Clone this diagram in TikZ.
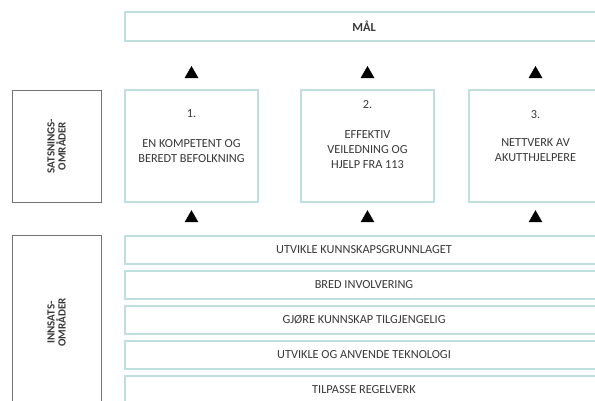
\documentclass[tikz,border=0pt]{standalone}
\usepackage{fontspec}
\setmainfont{Carlito}
\usetikzlibrary{shapes.geometric,positioning}

\begin{document}
\begin{tikzpicture}[x=1pt,y=-1pt,
    every node/.style={inner sep=0pt, font=\fontsize{12.3}{15}\selectfont, text=black!78},
    goalbox/.style={draw=teal!25, line width=1.6pt, rectangle, minimum width=478pt, minimum height=29pt},
    areabox/.style={draw=teal!25, line width=1.6pt, rectangle, minimum width=133pt, minimum height=112pt, align=center},
    rowbox/.style={draw=teal!25, line width=1.6pt, rectangle, minimum width=478pt, minimum height=28pt},
    sidebox/.style={draw=black!55, line width=1pt, rectangle, minimum width=89pt},
    sidelabel/.style={rotate=90, align=center, font=\fontsize{11}{11}\selectfont\bfseries},
    tri/.style={regular polygon, regular polygon sides=3, fill=black, minimum size=16pt}]
    \clip (0,0) rectangle (595,400);
    % maal
    \node[goalbox] (maal) at (364,26.5) {\textbf{MÅL}};
    % satsningsomraader
    \node[sidebox, minimum height=112pt] (sats) at (56.5,146) {};
    \node[sidelabel] at (sats.center) {SATSNINGS-\\OMRÅDER};
    \node[areabox] (b1) at (191.5,146) {1.\\[15pt]EN KOMPETENT OG\\BEREDT BEFOLKNING\\[4pt]};
    \node[areabox] (b2) at (367.5,146) {2.\\[15pt]EFFEKTIV\\VEILEDNING OG\\HJELP FRA 113\\[8pt]};
    \node[areabox] (b3) at (535.5,146) {3.\\[13pt]NETTVERK AV\\AKUTTHJELPERE\\[4pt]};
    % trekanter
    \node[tri, above=11pt of b1] (t1) {};
    \node[tri, above=11pt of b2] (t2) {};
    \node[tri, above=11pt of b3] (t3) {};
    \node[tri, below=7pt of b1] (u1) {};
    \node[tri, below=7pt of b2] (u2) {};
    \node[tri, below=7pt of b3] (u3) {};
    % innsatsomraader
    \node[sidebox, minimum height=175pt] (inns) at (56.5,322.5) {};
    \node[sidelabel] at (inns.center) {INNSATS-\\OMRÅDER};
    \node[rowbox] (r1) at (364,250) {UTVIKLE KUNNSKAPSGRUNNLAGET};
    \node[rowbox] (r2) at (364,285) {BRED INVOLVERING};
    \node[rowbox] (r3) at (364,320) {GJØRE KUNNSKAP TILGJENGELIG};
    \node[rowbox] (r4) at (364,355) {UTVIKLE OG ANVENDE TEKNOLOGI};
    \node[rowbox] (r5) at (364,390) {TILPASSE REGELVERK};
\end{tikzpicture}
\end{document}
